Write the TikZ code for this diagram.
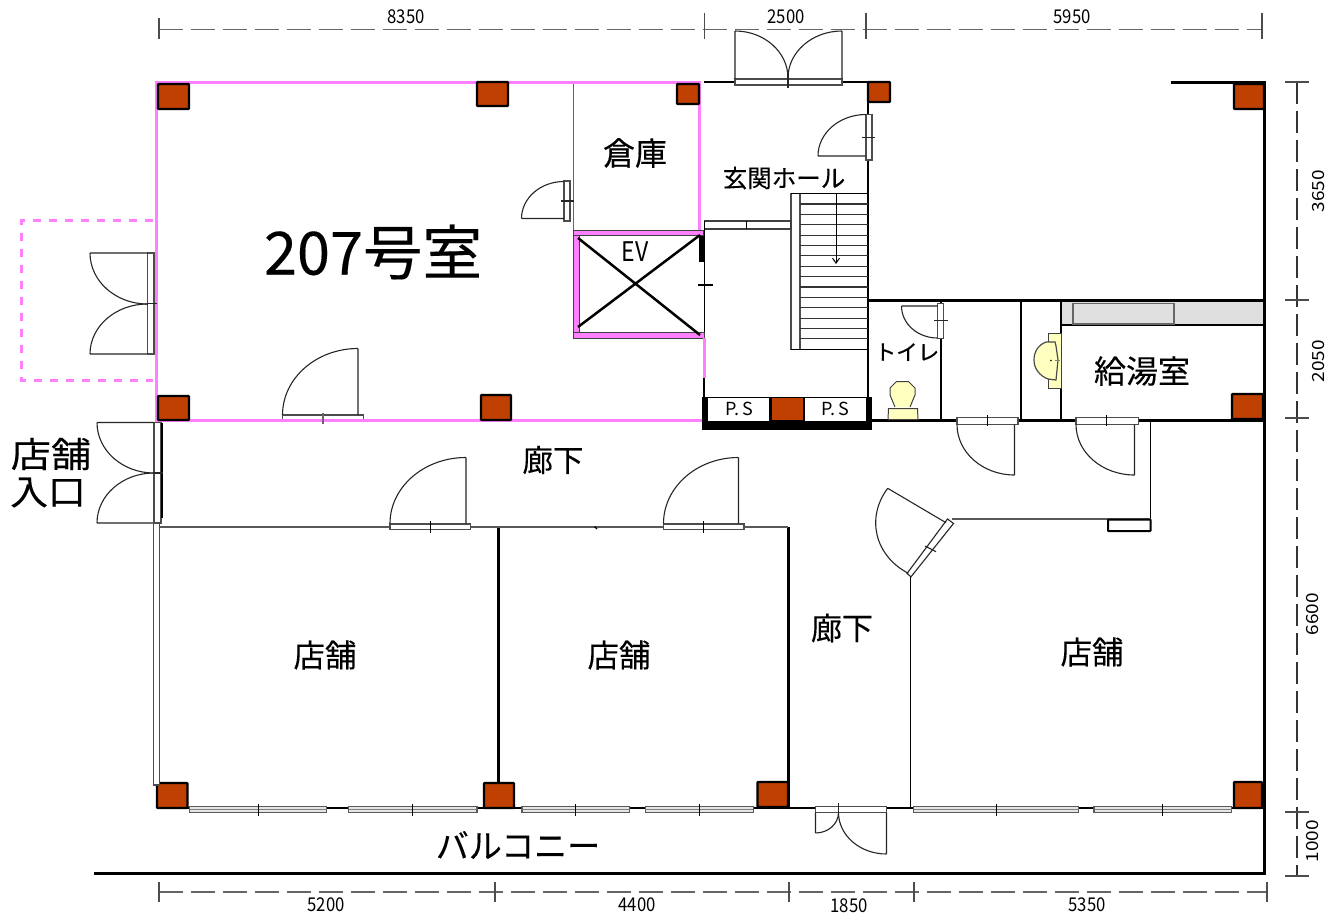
\documentclass[tikz,border=0pt]{standalone}
\usepackage{fontspec}
\setmainfont{Noto Sans CJK JP}
\newfontfamily\jplabel{Noto Sans CJK JP}[FakeBold=0.25]
\usetikzlibrary{calc,arrows.meta}
\definecolor{pinkwall}{HTML}{FF80FF}
\definecolor{colbrown}{HTML}{BF4000}
\definecolor{dimgrey}{HTML}{666666}
\definecolor{fixture}{HTML}{FFFFC0}
\newcommand\fs[1]{\fontsize{#1}{#1}\selectfont}
% quarter arc from a to b, tangent corner c
\newcommand\qarc[3]{(#1) .. controls ($(#1)!.5523!(#3)$) and ($(#2)!.5523!(#3)$) .. (#2)}
\tikzset{
  x=1pt,y=-1pt,
  dimline/.style={draw=dimgrey,line width=1.2pt,dash pattern=on 24pt off 8pt},
  dimlinev/.style={draw=black!80,line width=1.1pt,dash pattern=on 22pt off 7pt},
  dimtick/.style={draw=black!70,line width=1.1pt},
  dimtext/.style={inner sep=0pt,font=\fs{19},xscale=.88},
  thin wall/.style={draw=black,line width=1.1pt},
  wall/.style={draw=black,line width=2.5pt},
  heavy wall/.style={draw=black,line width=3pt},
  pink wall/.style={draw=pinkwall,line width=3pt},
  pink dash/.style={draw=pinkwall,line width=3pt,dash pattern=on 8pt off 8pt},
  leaf/.style={draw=black!85,line width=1.1pt},
  doorstrip/.style={draw=black!70,fill=white,line width=1.2pt},
  windowstrip/.style={draw=black!65,fill=black!10,line width=1.2pt},
  column/.style={draw=black,fill=colbrown,line width=2.4pt,rounded corners=.8pt},
  fixt/.style={draw=black!75,fill=fixture,line width=1pt},
  label/.style={inner sep=0pt},
}
\begin{document}
\begin{tikzpicture}
\useasboundingbox[fill=white] (0,0) rectangle (1334,913);

% ---------- dimension lines
\draw[dimline] (159,29.5) -- (1262,29.5);
\draw[dimtick] (159,18)--(159,39) (704.5,13)--(704.5,39) (866,13)--(866,39) (1262,13)--(1262,39);
\draw[dimline] (159,892) -- (1267,892);
\draw[dimtick] (159,882)--(159,902) (495,882)--(495,902) (789,882)--(789,902) (914,882)--(914,902) (1267,882)--(1267,902);
\draw[dimlinev] (1297,82) -- (1297,876);
\draw[dimtick] (1285,82)--(1309,82) (1285,300)--(1309,300) (1285,418)--(1309,418) (1285,812)--(1309,812) (1285,876)--(1309,876);
\node[dimtext] (d1) at (406,17) {8350};
\node[dimtext] (d2) at (786,17) {2500};
\node[dimtext] (d3) at (1072,17) {5950};
\node[dimtext] (d4) at (326,905) {5200};
\node[dimtext] (d5) at (637,905) {4400};
\node[dimtext] (d6) at (849,906) {1850};
\node[dimtext] (d7) at (1087,905) {5350};
\node[dimtext,rotate=90] (d8) at (1319,191) {3650};
\node[dimtext,rotate=90] (d9) at (1319,361) {2050};
\node[dimtext,rotate=90] (d10) at (1313,614) {6600};
\node[dimtext,rotate=90] (d11) at (1313,841) {1000};

% ---------- outer and main walls
\draw[heavy wall] (1171,82) -- (1264,82) -- (1264,873.5) -- (94,873.5);
\draw[heavy wall] (868,300) -- (1264,300);
\draw[wall] (704,82) -- (735,82) (842,82) -- (868,82) -- (868,114) (868,160) -- (868,397);
\draw[wall] (157,808) -- (1264,808);
\draw[heavy wall] (498,527) -- (498,785) (788.5,527) -- (788.5,808);
\draw[thin wall] (910.5,576) -- (910.5,808);
\draw[draw=black!65,line width=1.6pt] (159,527) -- (788,527);
\draw[thin wall] (594.5,526.5) -- (597,529);
\draw[draw=black!60,line width=1pt] (573,82) -- (573,230);

% ---------- stairs
\draw[doorstrip] (791,193.5) rectangle (800,349.5);
\draw[wall,line width=1.8pt] (791,193.5) -- (868,193.5) (791,349.5) -- (868,349.5);
\foreach \i in {0,...,13}
  \draw[draw=black!80,line width=1.1pt] (800,{204+\i*10.37}) -- (868,{204+\i*10.37});
\coordinate (stairtop) at (836,194);
\coordinate (stairend) at (836,264);
\draw[thin wall,line width=1pt,-{Straight Barb[length=5pt,width=7pt]}] (stairtop) -- (stairend);

% ---------- hall strip and lift shaft
\draw[doorstrip,draw=black!75] (704.5,221) rectangle (791,229);
\draw[thin wall] (746.5,221) -- (746.5,229);
\draw[thin wall] (704.5,221) -- (704.5,335);
\draw[thin wall] (698,285) -- (713,285);
\fill[black] (699,233) rectangle (705,261.5);
\draw[black!75,fill=pinkwall,line width=.8pt] (573,230) rectangle (703,235);
\draw[black!75,fill=pinkwall,line width=.8pt] (573,235) rectangle (579.5,332);
\draw[black!75,fill=pinkwall,line width=.8pt] (573,332) rectangle (704,338);
\draw[wall] (578,238) -- (700,335) (700,235) -- (578,327);

% ---------- room 207 outline
\draw[pink wall] (699,230) -- (699,82) -- (156,82) -- (156,420.5) -- (703,420.5);
\draw[pink wall] (704,338) -- (704,378);
\draw[wall] (704,378) -- (704,397);
\draw[pink dash] (153,220.5) -- (21.5,220.5) -- (21.5,380.5) -- (153,380.5);

% ---------- P.S block
\fill[black] (702,397) rectangle (872,429.5);
\fill[white] (708,398) rectangle (769,421);
\fill[white] (805,398) rectangle (866,421);
\fill[colbrown] (772,398) rectangle (803,420);

% ---------- columns
\draw[column] (158,84) rectangle (189,109);
\draw[column] (477,82) rectangle (508,106);
\draw[column] (677,84) rectangle (699,104);
\draw[column] (868,82) rectangle (890,102);
\draw[column] (1234,84) rectangle (1264,109);
\draw[column] (158,396) rectangle (189,420);
\draw[column] (481,395) rectangle (511,420);
\draw[column] (1232,394) rectangle (1263,419);
\draw[column] (157,783) rectangle (187.5,808);
\draw[column] (484,783) rectangle (514,808);
\draw[column] (757.5,782) rectangle (788,807);
\draw[column] (1234,782) rectangle (1262,808);

% ---------- top double door
\draw[doorstrip] (735,79) rectangle (842,85);
\draw[leaf] (735,79) -- (735,31) \qarc{735,31}{788,78}{788,31};
\draw[leaf] (842,79) -- (842,31) \qarc{842,31}{788,78}{788,31};
\draw[leaf] (788,70) -- (788,88);

% ---------- hall door, right
\draw[doorstrip] (866,114.5) rectangle (872,160);
\draw[leaf] (866,156) -- (818,156) \qarc{818,156}{866,114.5}{818,114.5};
\draw[leaf] (862,137.5) -- (875,137.5);

% ---------- store-room door
\draw[doorstrip] (564,181) rectangle (570,221);
\draw[leaf] (564,218.5) -- (521.5,218.5) \qarc{521.5,218.5}{564,181.5}{521.5,181.5};
\draw[leaf] (561,201) -- (574,201);

% ---------- left double door of room 207
\draw[doorstrip] (147.5,253) rectangle (154,354);
\draw[leaf] (147.5,253) -- (90,253) \qarc{90,253}{147.5,304}{90,304};
\draw[leaf] (147.5,354) -- (90,354) \qarc{90,354}{147.5,304}{90,304};
\draw[leaf] (147.5,303.5) -- (157,303.5);

% ---------- room 207 corridor door
\draw[doorstrip] (282.5,415) rectangle (363.5,420);
\draw[leaf] (358,415) -- (358,348.5) \qarc{358,348.5}{282.5,415}{282.5,348.5};
\draw[pink wall] (282,420.5) -- (364,420.5);
\draw[draw=black!60,line width=1.2pt] (323,413) -- (323,424);

% ---------- shop entrance double door
\draw[doorstrip] (154,422.5) rectangle (161,523);
\draw[wall] (162,423) -- (162,518);
\draw[leaf] (154,422.5) -- (97,422.5) \qarc{97,422.5}{154,473}{97,473};
\draw[leaf] (154,523) -- (97,523) \qarc{97,523}{154,473}{97,473};
\draw[leaf] (154,473) -- (163,473);
\draw[doorstrip] (153.5,523) rectangle (159.5,785);

% ---------- shop doors on corridor
\draw[doorstrip] (390,524) rectangle (470.5,529.5);
\draw[leaf] (466,523.5) -- (466,457.5) \qarc{466,457.5}{390,523.5}{390,457.5};
\draw[thin wall] (430.5,521) -- (430.5,533);
\draw[doorstrip] (663.5,524) rectangle (744,529.5);
\draw[leaf] (738.5,523.5) -- (738.5,457.5) \qarc{738.5,457.5}{663.5,523.5}{663.5,457.5};
\draw[thin wall] (703.5,521) -- (703.5,533);

% ---------- toilet, service rooms
\draw[wall] (941,300) -- (941,304) (941,338) -- (941,421);
\draw[wall] (872,420.5) -- (958,420.5) (1018,420.5) -- (1076,420.5) (1138,420.5) -- (1264,420.5);
\draw[wall] (1021,300) -- (1021,420) (1061,300) -- (1061,420);
\draw[doorstrip] (937.5,303.5) rectangle (943.5,338.5);
\draw[leaf] (937.5,306) -- (901.5,306) \qarc{901.5,306}{937.5,338}{901.5,338};
\draw[leaf] (934,320.5) -- (948,320.5);
\draw[fixt] (888.5,408.5) -- (917.5,408.5) -- (918,419.5) -- (888,419.5) -- cycle;
\draw[fixt] (895,407) -- (890,395) -- (890,388) -- (896.5,381.5) -- (908.5,381.5) -- (915,388) -- (915,395) -- (910,407);

% ---------- service-room doors
\draw[doorstrip] (957,417.5) rectangle (1018,424.5);
\draw[leaf] (1014.5,424.5) -- (1014.5,475) \qarc{1014.5,475}{957,424.5}{957,475};
\draw[thin wall] (987.5,415) -- (987.5,426);
\draw[doorstrip] (1076,417.5) rectangle (1138.5,424.5);
\draw[leaf] (1134.5,424.5) -- (1134.5,475) \qarc{1134.5,475}{1076,424.5}{1076,475};
\draw[thin wall] (1106.5,415) -- (1106.5,426);

% ---------- kitchenette
\fill[black!13] (1062,301.5) rectangle (1263,325);
\draw[thin wall] (1062,325) -- (1263,325);
\draw[draw=black!60,fill=black!12,line width=1.5pt] (1073,303.5) rectangle (1174,324);
\draw[fixt] (1048.5,333.5) rectangle (1061,388);
\draw[fixt,draw=black!70,line width=1.2pt] (1046,342) .. controls (1038,345) and (1034,352) .. (1034,360) .. controls (1034,369) and (1040,376) .. (1048,379) -- (1056,380) -- (1058,360) -- (1056,346) -- (1055,342) -- cycle;
\fill[black] (1051,360.5) circle (.9);
\draw[draw=black!50,line width=1.5pt] (1055,360.5) -- (1060,360.5);

% ---------- thin partition and diagonal door
\draw[thin wall] (1150.5,421) -- (1150.5,519);
\draw[draw=black!65,line width=1.2pt] (1150.5,519) -- (952,519);
\draw[draw=black,fill=white,line width=2pt,rounded corners=.5pt] (1108,519.5) rectangle (1150.5,531);
\draw[draw=black!85,fill=white,line width=1.1pt] (947.5,519) -- (953.5,523.5) -- (911,576.8) -- (907,573.5) -- cycle;
\draw[leaf] (946,522.7) -- (887.7,488.3) \qarc{887.7,488.3}{908.3,573.3}{847.7,541.6};
\draw[leaf] (925,546) -- (936,551.7);

% ---------- balcony windows
\foreach \a/\b/\t in {189.5/326.5/258,348.8/477/412.5,522/629.4/575,645.2/753.4/699,913.5/1078.5/996.5,1094/1231.7/1162.5}{
  \draw[windowstrip] (\a,806.5) rectangle (\b,812.5);
  \draw[draw=black!50,line width=1.6pt] (\a,809.5) -- (\b,809.5);
  \draw[draw=black,line width=.9pt] (\t,804) -- (\t,815.5);
}
% ---------- balcony door
\draw[doorstrip] (815.5,806.5) rectangle (886.5,812.5);
\draw[leaf] (815.5,812.5) -- (815.5,833) \qarc{815.5,833}{838.5,812.5}{838.5,833};
\draw[leaf] (886.5,812.5) -- (886.5,854) \qarc{886.5,854}{838.5,812.5}{838.5,854};
\draw[leaf] (838.5,803) -- (838.5,818);

% ---------- room labels
\node[label,font=\jplabel\fs{59.5}] (room) at (373,252) {207号室};
\node[label,font=\jplabel\fs{32}] (store) at (635,153) {倉庫};
\node[label,font=\jplabel\fs{24.5}] (hall) at (784,178) {玄関ホール};
\node[label,font=\fs{27},xscale=.85] (ev) at (635,252) {EV};
\node[label,font=\fs{18}] (ps1) at (739,409) {P.\hspace{3pt}S};
\node[label,font=\fs{18}] (ps2) at (835,409) {P.\hspace{3pt}S};
\node[label,font=\jplabel\fs{21.5}] (wc) at (907,352) {トイレ};
\node[label,font=\jplabel\fs{32}] (kitchen) at (1142,371) {給湯室};
\node[label,font=\jplabel\fs{30.5}] (cor1) at (553,460) {廊下};
\node[label,font=\jplabel\fs{31}] (cor2) at (842,628) {廊下};
\node[label,font=\jplabel\fs{31.5}] (shop1) at (325,655) {店舗};
\node[label,font=\jplabel\fs{31.5}] (shop2) at (619,655) {店舗};
\node[label,font=\jplabel\fs{31.5}] (shop3) at (1092,652) {店舗};
\node[label,font=\jplabel\fs{35},xscale=1.15] (shopin1) at (51,454) {店舗};
\node[label,font=\jplabel\fs{35},xscale=1.08] (shopin2) at (48,492.5) {入口};
\node[label,font=\jplabel\fs{33}] (balcony) at (518,845) {バルコニー};
\end{tikzpicture}
\end{document}
